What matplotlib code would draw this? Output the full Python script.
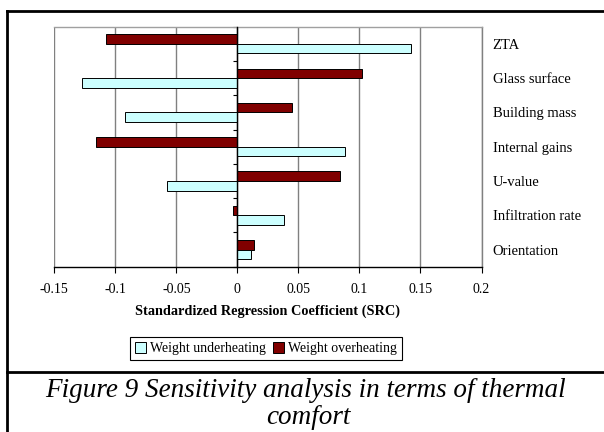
import matplotlib
matplotlib.use("Agg")
import matplotlib.pyplot as plt
import numpy as np
from matplotlib.lines import Line2D

plt.rcParams['font.family'] = ['Liberation Serif', 'DejaVu Serif']

categories = ["ZTA", "Glass surface", "Building mass", "Internal gains",
              "U-value", "Infiltration rate", "Orientation"]
underheating = [0.142, -0.127, -0.092, 0.088, -0.058, 0.038, 0.011]
overheating = [-0.108, 0.102, 0.045, -0.116, 0.084, -0.004, 0.014]
xticks = [-0.15, -0.1, -0.05, 0, 0.05, 0.1, 0.15, 0.2]
xticklabels = ["-0.15", "-0.1", "-0.05", "0", "0.05", "0.1", "0.15", "0.2"]

fig = plt.figure(figsize=(6.04, 4.32), dpi=100)
ax = fig.add_axes([0.0899, 0.3826, 0.7073, 0.5556])

y = np.arange(len(categories))
h = 0.28
ax.barh(y - h / 2, overheating, height=h, color='#800000', edgecolor='black',
        linewidth=0.7, label='Weight overheating', zorder=3)
ax.barh(y + h / 2, underheating, height=h, color='#CCFFFF', edgecolor='black',
        linewidth=0.7, label='Weight underheating', zorder=3)

ax.set_xlim(-0.15, 0.2)
ax.set_ylim(len(categories) - 0.5, -0.5)
ax.set_xticks(xticks)
ax.set_xticklabels(xticklabels, fontsize=10)
ax.xaxis.grid(True, color='#808080', linewidth=1.0, zorder=0)
ax.set_axisbelow(True)

# category axis at zero
ax.spines['left'].set_position(('data', 0))
ax.spines['left'].set_color('black')
ax.spines['left'].set_linewidth(1.0)
ax.spines['left'].set_zorder(4)
ax.set_yticks([])
ax.set_yticks(np.arange(-0.5, len(categories), 1.0), minor=True)
ax.tick_params(axis='y', which='minor', direction='out', length=3, width=0.8,
               labelleft=False)
ax.spines['top'].set_color('#a0a0a0')
ax.spines['top'].set_linewidth(1.0)
ax.spines['right'].set_color('#808080')
ax.spines['right'].set_linewidth(1.0)
ax.spines['bottom'].set_color('black')
ax.spines['bottom'].set_linewidth(1.0)
ax.tick_params(axis='x', direction='out', length=4, width=0.8, pad=8)

ax.set_xlabel("Standardized Regression Coefficient (SRC)", fontsize=10.3,
              fontweight='bold', labelpad=6)

# category labels on the right
ax2 = ax.twinx()
ax2.set_ylim(ax.get_ylim())
ax2.set_yticks(y)
ax2.set_yticklabels(categories, fontsize=10.5)
ax2.tick_params(axis='y', length=0, pad=8)
for s in ax2.spines.values():
    s.set_visible(False)

handles = [
    plt.Rectangle((0, 0), 1, 1, facecolor='#CCFFFF', edgecolor='black', linewidth=0.7),
    plt.Rectangle((0, 0), 1, 1, facecolor='#800000', edgecolor='black', linewidth=0.7),
]
leg = fig.legend(handles, ["Weight underheating", "Weight overheating"],
                 loc='center', bbox_to_anchor=(0.44, 0.193), ncol=2,
                 fontsize=10, frameon=True, fancybox=False, framealpha=1,
                 edgecolor='black', handlelength=0.8, handleheight=0.8,
                 handletextpad=0.3, columnspacing=0.5, borderpad=0.35,
                 borderaxespad=0)
leg.get_frame().set_linewidth(0.8)

# figure frame
lw = 2.0
fig.add_artist(Line2D([0.0116, 1.0], [0.9745, 0.9745], color='black', linewidth=lw,
                      transform=fig.transFigure))
fig.add_artist(Line2D([0.0116, 0.0116], [0.0, 0.9745], color='black', linewidth=lw,
                      transform=fig.transFigure))
fig.add_artist(Line2D([0.0116, 1.0], [0.1389, 0.1389], color='black', linewidth=lw,
                      transform=fig.transFigure))

fig.text(0.505, 0.097, "Figure 9 Sensitivity analysis in terms of thermal",
         ha='center', va='center', fontsize=19.5, style='italic')
fig.text(0.51, 0.033, "comfort", ha='center', va='center', fontsize=19.5,
         style='italic')

fig.savefig("out.png", dpi=100)
